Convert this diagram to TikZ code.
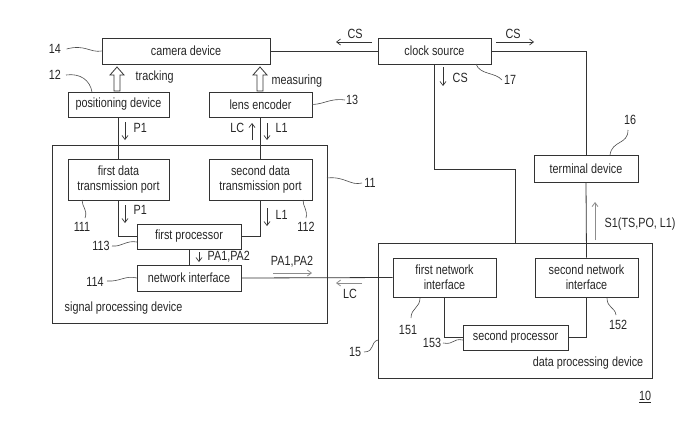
\documentclass[tikz,border=0pt]{standalone}
\usepackage{fontspec}
\setmainfont{Liberation Sans}[FakeStretch=0.81]
\usetikzlibrary{arrows.meta,calc}
\begin{document}
\begin{tikzpicture}[x=0.75pt,y=-0.75pt,
  every node/.style={font=\fontsize{10}{11.5}\selectfont, text=black!85},
  box/.style={draw=black!80, line width=0.6pt, inner sep=0pt, align=center},
  wire/.style={draw=black!80, line width=0.6pt},
  sig/.style={draw=black!80, line width=0.5pt, -{Straight Barb[length=3pt,width=4.5pt]}},
  gsig/.style={draw=black!45, line width=0.6pt, -{Straight Barb[length=3pt,width=4.5pt]}},
  lead/.style={draw=black!70, line width=0.45pt},
  hollow/.style={draw=black!80, line width=0.6pt, fill=white},
  lbl/.style={inner sep=1pt}]
\useasboundingbox (0,0) rectangle (691,436);

% boxes
\node[box, minimum width=126pt, minimum height=19.5pt] (cam) at (186,51) {camera device};
\node[box, minimum width=84.75pt, minimum height=19.5pt] (clock) at (434.5,51) {clock source};
\node[box, minimum width=75.75pt, minimum height=18.75pt] (pos) at (118.5,104.5) {positioning device};
\node[box, minimum width=77.25pt, minimum height=18.75pt] (lens) at (260.5,104.5) {lens encoder};
\node[box, minimum width=206.25pt, minimum height=133.5pt] (spd) at (189.5,234) {};
\node[box, minimum width=75.75pt, minimum height=30.75pt] (port1) at (118.5,179.5) {first data\\transmission port};
\node[box, minimum width=77.25pt, minimum height=30.75pt] (port2) at (260.5,179.5) {second data\\transmission port};
\node[box, minimum width=78pt, minimum height=18.75pt] (proc1) at (189,236.5) {first processor};
\node[box, minimum width=78pt, minimum height=19.5pt] (net) at (189,278) {network interface};
\node[box, minimum width=205.5pt, minimum height=101.25pt] (dpd) at (515,310.5) {};
\node[box, minimum width=77.25pt, minimum height=29.25pt] (nif1) at (444.5,277.5) {first network\\interface};
\node[box, minimum width=77.25pt, minimum height=29.25pt] (nif2) at (586.5,277.5) {second network\\interface};
\node[box, minimum width=78.75pt, minimum height=18.75pt] (proc2) at (515.5,337.5) {second processor};
\node[box, minimum width=78pt, minimum height=20.25pt] (term) at (586,168.5) {terminal device};

\node[anchor=west] (spdt) at (60,308) {signal processing device};
\node (dpdt) at (588,363) {data processing device};

% connectors
\draw[wire] (pos.south) -- (port1.north);
\draw[wire] (lens.south) -- (port2.north);
\draw[wire] (port1.south) |- (proc1.west);
\draw[wire] (port2.south) |- (proc1.east);
\draw[wire] (proc1.south) -- (net.north);
\draw[wire] (net.east) -- (nif1.west);
\draw[wire] (cam.east) -- (clock.west);
\draw[wire] (clock.east) -| (term.north);
\coordinate (bend) at (515,169);
\draw[wire] (clock.south) |- (bend) -- (dpd.north);
\draw[wire] (term.south) -- (nif2.north);
\draw[wire] (nif1.south) |- (proc2.west);
\draw[wire] (nif2.south) |- (proc2.east);

% hollow arrows
\draw[hollow, shift={(117,91)}] (-3,0) -- (-3,-16) -- (-7,-16) -- (0,-24) -- (7,-16) -- (3,-16) -- (3,0) -- cycle;
\draw[hollow, shift={(260,91)}] (-3,0) -- (-3,-16) -- (-7,-16) -- (0,-24) -- (7,-16) -- (3,-16) -- (3,0) -- cycle;
\node[anchor=west] (trk) at (131,77) {tracking};
\node[anchor=west] (meas) at (267,81) {measuring};

% signal arrows
\draw[sig] (372,42) -- (336,42); \node (cs1) at (355,34) {CS};
\draw[sig] (496,42) -- (534,42); \node (cs2) at (513,34) {CS};
\draw[sig] (443,67) -- (443,86); \node[anchor=west] (cs3) at (448,78) {CS};
\draw[sig] (125,122) -- (125,140); \node[anchor=west] (p1a) at (129,128) {P1};
\draw[sig] (252,140) -- (252,123); \node[anchor=east] (lca) at (249,128) {LC};
\draw[sig] (267,123) -- (267,140); \node[anchor=west] (l1a) at (271,128) {L1};
\draw[sig] (125,205) -- (125,223); \node[anchor=west] (p1b) at (129,210) {P1};
\draw[sig] (267,208) -- (267,226); \node[anchor=west] (l1b) at (271,215) {L1};
\draw[sig] (199,252) -- (199,262); \node[anchor=west] (pa1) at (203,257) {PA1,PA2};
\draw[gsig] (273,273) -- (312,273); \node (pa2) at (292,262) {PA1,PA2};
\draw[gsig] (362,283) -- (336,283); \node (lcb) at (350,294) {LC};
\draw[gsig] (595,240) -- (595,202); \node[anchor=west] (s1) at (600,224) {S1(TS,PO, L1)};

% reference labels
\node[lbl] (r14) at (55,49) {14};
\draw[lead] (r14.east) ++(4,0) coordinate (a14) .. controls (85,44) and (90,53) .. (cam.west);
\node[lbl] (r12) at (55,75) {12};
\draw[lead] (66,75) .. controls (80,73) and (90,80) .. (92,92);
\node[lbl] (r13) at (352,100) {13};
\draw[lead] (lens.east) .. controls (325,104) and (330,98) .. (345,100);
\node[lbl] (r17) at (510,80) {17};
\draw[lead] (476,64) .. controls (480,75) and (495,72) .. (502,80);
\node[lbl] (r11) at (370,183) {11};
\draw[lead] (327,178) .. controls (345,176) and (350,186) .. (362,183);
\node[lbl] (r111) at (82,227) {111};
\draw[lead] (82,200) .. controls (82,207) and (88,210) .. (85,218);
\node[lbl] (r112) at (306,227) {112};
\draw[lead] (303,200) .. controls (303,207) and (308,210) .. (306,218);
\node[lbl] (r113) at (101,246) {113};
\draw[lead] (112,246) .. controls (122,247) and (126,240) .. (137,242);
\node[lbl] (r114) at (95,282) {114};
\draw[lead] (107,281) .. controls (120,282) and (125,275) .. (137,278);
\node[lbl] (r16) at (630,120) {16};
\draw[lead] (610,155) .. controls (612,140) and (628,145) .. (628,130);
\node[lbl] (r151) at (408,330) {151};
\draw[lead] (420,298) .. controls (420,308) and (411,308) .. (411,318);
\node[lbl] (r152) at (618,325) {152};
\draw[lead] (607,298) .. controls (607,308) and (615,307) .. (616,315);
\node[lbl] (r153) at (432,343) {153};
\draw[lead] (443,343) .. controls (455,345) and (452,338) .. (463,340);
\node[lbl] (r15) at (355,352) {15};
\draw[lead] (364,352) .. controls (375,352) and (370,342) .. (378,340);
\node[lbl] (r10) at (645,397) {\underline{10}};
\end{tikzpicture}
\end{document}
